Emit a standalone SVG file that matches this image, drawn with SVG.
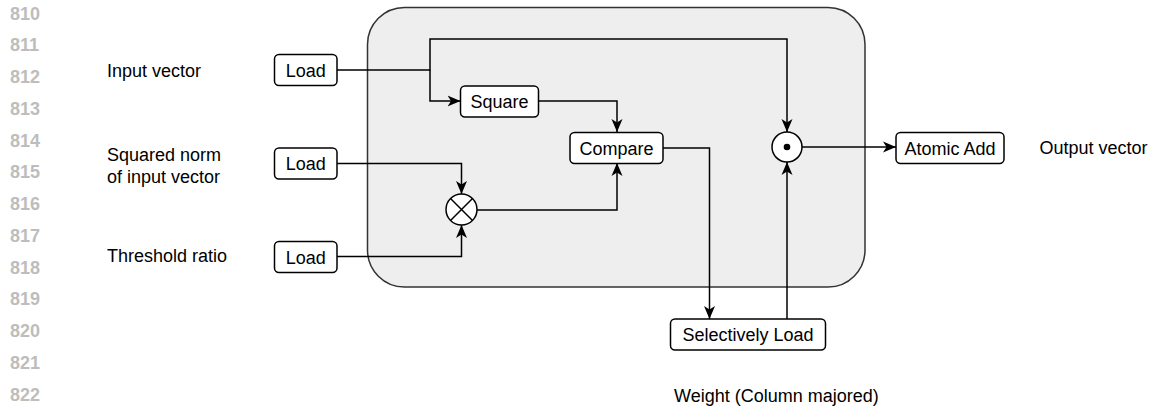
<svg xmlns="http://www.w3.org/2000/svg" width="1153" height="408" viewBox="0 0 1153 408">
  <style>
    .ln { font-family: "Liberation Sans", Arial, sans-serif; font-size: 18px; font-weight: bold; fill: #bdbdbd; }
    .lbl { font-family: "Liberation Sans", Arial, sans-serif; font-size: 18px; fill: #000; }
    .c { text-anchor: middle; }
    .box { fill: #fff; stroke: #000; stroke-width: 1.5; }
    .op { fill: #fff; stroke: #000; stroke-width: 1.5; }
    .wire { fill: none; stroke: #000; stroke-width: 1.5; }
    .arrow { marker-end: url(#head); }
  </style>
  <defs>
    <marker id="head" markerUnits="userSpaceOnUse" viewBox="0 0 14 12" refX="13" refY="6" markerWidth="14" markerHeight="12" orient="auto">
      <path d="M13,6 L0,0.5 L3.5,6 L0,11.5 Z" fill="#000"/>
    </marker>
  </defs>

  <rect width="1153" height="408" fill="#fff"/>

  <!-- line numbers -->
  <g id="line-numbers" class="ln">
    <text x="10" y="19.5">810</text>
    <text x="10" y="51.2">811</text>
    <text x="10" y="83">812</text>
    <text x="10" y="114.7">813</text>
    <text x="10" y="146.5">814</text>
    <text x="10" y="178.2">815</text>
    <text x="10" y="210">816</text>
    <text x="10" y="241.7">817</text>
    <text x="10" y="273.5">818</text>
    <text x="10" y="305.2">819</text>
    <text x="10" y="337">820</text>
    <text x="10" y="368.7">821</text>
    <text x="10" y="400.5">822</text>
  </g>

  <!-- kernel region -->
  <g id="kernel">
    <rect x="367.5" y="7.5" width="497.5" height="279.5" rx="37" ry="37" fill="#eeeeee" stroke="#333" stroke-width="1.5"/>
  </g>

  <!-- side labels -->
  <g id="labels" class="lbl">
    <text x="107" y="76.5">Input vector</text>
    <text x="107" y="160.5">Squared norm</text>
    <text x="107" y="182.5">of input vector</text>
    <text x="107" y="262">Threshold ratio</text>
    <text x="1039.5" y="154">Output vector</text>
    <text x="674" y="401.5">Weight (Column majored)</text>
  </g>

  <!-- connectors -->
  <g id="connectors" class="wire">
    <path class="arrow" d="M337,70 H430 V39 H787 V132"/>
    <path class="arrow" d="M430,70 V101 H460.5"/>
    <path class="arrow" d="M538.5,101 H617 V132"/>
    <path class="arrow" d="M337,163.5 H461.5 V194"/>
    <path class="arrow" d="M337,256.5 H461.5 V225"/>
    <path class="arrow" d="M477,210 H617 V163"/>
    <path class="arrow" d="M663,148 H709.5 V319"/>
    <path class="arrow" d="M787,319 V162"/>
    <path class="arrow" d="M802,147 H896"/>
  </g>

  <!-- nodes -->
  <g id="load-input">
    <rect class="box" x="274.5" y="54.5" width="62.5" height="31" rx="4.5"/>
    <text class="lbl c" x="305.7" y="76.5">Load</text>
  </g>
  <g id="load-norm">
    <rect class="box" x="274.5" y="148" width="62.5" height="31" rx="4.5"/>
    <text class="lbl c" x="305.7" y="170">Load</text>
  </g>
  <g id="load-threshold">
    <rect class="box" x="274.5" y="241.5" width="62.5" height="31" rx="4.5"/>
    <text class="lbl c" x="305.7" y="263.5">Load</text>
  </g>
  <g id="square">
    <rect class="box" x="460.5" y="86" width="78" height="31" rx="4.5"/>
    <text class="lbl c" x="499.5" y="108">Square</text>
  </g>
  <g id="compare">
    <rect class="box" x="570" y="132.5" width="93" height="31" rx="4.5"/>
    <text class="lbl c" x="616.5" y="154.5">Compare</text>
  </g>
  <g id="multiply">
    <circle class="op" cx="461.5" cy="209.5" r="15.5"/>
    <path d="M450.5,198.5 L472.5,220.5 M472.5,198.5 L450.5,220.5" stroke="#000" stroke-width="1.5"/>
  </g>
  <g id="elementwise">
    <circle class="op" cx="787" cy="147" r="15"/>
    <circle cx="787" cy="147" r="3.3" fill="#000"/>
  </g>
  <g id="atomic-add">
    <rect class="box" x="896" y="132.5" width="108" height="31" rx="4.5"/>
    <text class="lbl c" x="950" y="154.5">Atomic Add</text>
  </g>
  <g id="selective-load">
    <rect class="box" x="670.5" y="319" width="155" height="31" rx="4.5"/>
    <text class="lbl c" x="748" y="341">Selectively Load</text>
  </g>
</svg>
